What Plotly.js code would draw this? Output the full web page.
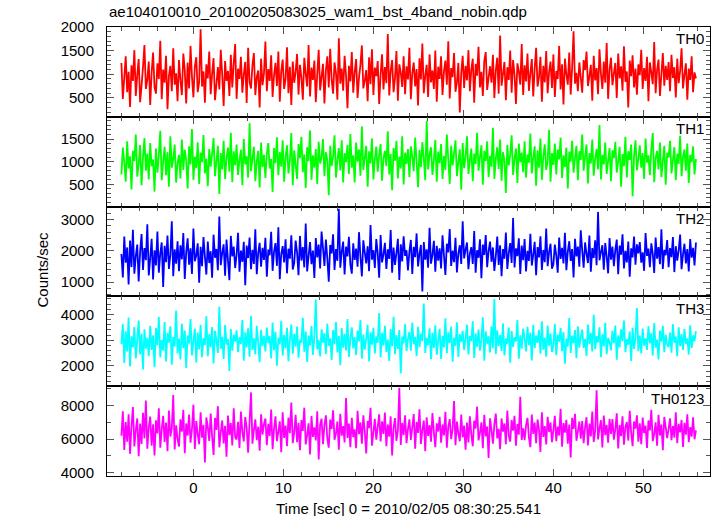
<!DOCTYPE html>
<html>
<head>
<meta charset="utf-8">
<script src="https://cdn.plot.ly/plotly-3.0.1.min.js"></script>
<style>html,body{margin:0;padding:0;background:#fff;}#chart{width:717px;height:516px;}</style>
</head>
<body>
<div id="chart"></div>
<script>
// Time bins (sec, relative to 2010/02/05 08:30:25.541)
var tStart = -8.0;
var binSize = 0.16;

var bandNames = ["TH0", "TH1", "TH2", "TH3", "TH0123"];

var th0 = [
1240,480,930,1380,620,1050,310,1190,860,1510,540,980,1320,410,760,1150,1620,690,880,1270,
350,1040,1460,720,590,1230,900,1710,470,1100,820,1390,260,960,1180,640,1550,780,1020,430,
1300,870,560,1440,1090,380,1250,700,1600,950,510,1170,1360,620,840,1950,740,1060,400,1210,
910,1480,580,1010,1340,450,790,1150,680,1520,990,330,1280,860,1070,540,1410,720,1230,1640,
480,1120,900,1370,610,1000,1260,390,1560,830,700,1190,1450,560,940,1080,300,1330,770,1020,
1690,640,1110,860,1400,520,980,1240,750,1480,420,1060,1310,690,890,1570,600,1160,350,1270,
820,1050,1430,570,1200,930,460,1350,1010,740,1620,530,1140,880,1290,410,1000,1520,660,950,
1220,380,1080,1380,720,1540,890,590,1250,1030,460,1760,800,1120,650,1390,970,280,1180,850,
1470,610,1040,1320,500,930,1200,1610,700,860,1090,430,1360,790,1530,560,1140,960,1280,370,
990,1420,680,1150,810,1850,550,1070,1300,620,920,1490,440,1210,1040,730,1380,580,1170,890,
1560,470,1020,1250,740,1110,340,1340,890,1650,600,970,1200,520,1420,830,1080,690,1500,420,
1160,900,1380,560,1060,1290,780,1700,490,1130,940,1450,630,830,1240,190,1030,1390,710,1180,
870,1510,640,1100,1330,400,1220,970,1580,720,1050,540,1280,1470,670,930,1170,820,1410,500,
1080,1350,590,1820,760,1010,1260,450,1150,880,1500,610,1300,990,370,1230,1060,780,1640,560,
1190,850,1440,650,1020,1320,530,1110,1560,740,940,1370,420,1180,830,1490,600,1050,1270,710,
1420,520,1070,900,1600,680,1210,360,1330,1000,780,1460,570,1140,1910,800,1030,640,1250,940,
610,1300,1090,1480,750,960,1200,440,1390,870,1130,580,1530,1010,690,1270,820,1660,480,1100,
1350,770,1020,1240,500,1440,910,1170,650,1590,840,1060,300,1290,960,1400,720,1120,570,1210,
980,1520,690,1130,860,1370,430,1250,1040,790,1680,600,1090,1310,540,1000,1450,760,1180,880,
1260,640,1410,920,1150,510,1330,810,1070,1550,700,990,1230,460,1120,880,1380,620,1040,910
];

var th1 = [
720,1310,980,560,1450,850,1120,390,1240,1010,1600,670,930,1370,480,1090,1520,800,1180,610,
1410,900,1050,340,1290,760,1140,1680,590,1000,1330,700,1210,450,1560,870,1060,1380,540,970,
1150,630,1490,820,1260,1040,410,1340,940,1720,600,1110,860,1430,510,1200,990,1590,740,1070,
460,1280,890,1170,1520,680,1010,1350,290,1190,830,1460,620,1080,1310,780,1640,550,1230,920,
1380,710,1030,1260,480,1500,940,1120,650,1850,790,1060,1330,570,1000,1240,430,1420,880,1150,
640,1180,1410,850,1060,330,1300,970,1540,700,1210,890,1470,560,1100,1360,740,1020,1630,480,
1250,930,620,1390,1080,1550,770,1160,420,1320,1010,1690,600,1140,870,1280,510,1440,960,1090,
1500,680,1210,1030,260,1350,900,1120,1580,650,1040,1300,810,1470,540,1190,990,1370,730,1610,
870,1140,540,1420,1000,1270,690,1780,820,1090,1350,450,1230,960,1510,610,1060,1330,780,1150,
1390,580,1080,1240,900,1670,720,1170,370,1300,1020,1460,630,1110,850,1560,500,1200,950,1280,
660,1340,1120,790,1530,1010,440,1260,880,1430,1070,590,1900,830,1150,1320,710,1040,1480,560,
1220,970,1390,620,1130,820,1600,1050,510,1350,920,1190,1470,680,1000,1270,380,1410,860,1100,
1560,730,1040,1290,570,1180,950,1640,800,1100,1360,490,1240,1010,1450,660,1130,890,1750,620,
1070,1320,840,1490,580,1210,1030,310,1370,920,1150,1580,710,1060,1290,530,1400,990,1200,770,
1450,650,1160,980,1620,740,1090,1340,470,1250,870,1510,600,1120,1380,820,1010,1700,560,1190,
930,1400,720,1270,1050,1530,640,1140,880,1310,410,1220,1000,1460,760,1080,1350,590,1230,1040,
1600,800,1110,1380,520,1190,960,1490,690,1070,1280,830,1810,610,1150,940,1420,730,1020,1300,
570,1250,1080,1440,760,1010,1330,450,1170,900,1550,650,1230,1040,1380,240,1120,1470,810,1060,
1360,870,1190,620,1510,980,1140,700,1290,1630,550,1080,1240,830,1420,660,1000,1350,490,1200,
1090,1460,740,1030,1320,590,1180,950,1570,680,1110,1270,800,1400,530,1150,990,1340,720,1060
];

var th2 = [
1900,1150,2460,1620,2110,920,2330,1480,2680,1270,1830,2200,1020,1980,2540,1390,2090,1700,2850,1210,
1760,2390,1080,2020,1530,2620,1300,1920,2270,840,2160,1640,2490,1420,1870,2950,1190,2050,1590,2310,
1350,2180,1730,2570,1100,1960,2400,1560,2080,1260,2720,1670,1850,2240,980,2130,1510,2440,1810,1240,
2300,1610,1990,1140,2520,1780,2060,1380,3100,1540,1930,2210,1200,2360,1700,1060,2480,1820,2140,1450,
1880,2580,1330,2010,1650,2290,900,2170,1770,2430,1410,2030,1580,2690,1250,1940,2260,1490,2100,1710,
2420,1170,2040,1860,2610,1360,1980,2250,1520,2760,1090,1900,2150,1630,2370,1280,2070,1750,2500,1400,
1610,2330,1950,1220,2480,1690,2120,1470,2880,1340,1840,2280,1570,2010,1130,2410,1790,2200,1440,2620,
2090,1520,2360,1760,1010,2190,1920,2530,1390,2060,1680,3350,1460,1970,2300,1240,2140,1820,2450,1560,
1270,2240,1710,2070,1490,2600,1810,1180,2340,1960,1600,2150,1350,2830,1720,2020,1450,2380,1930,1140,
2510,1630,1890,2260,1420,2050,1740,2670,1300,2110,1550,1940,2390,1070,2210,1660,2470,1840,2020,1370,
1980,2350,1260,2130,1800,2560,1500,1900,2190,700,2280,1720,2050,1460,2740,1590,1870,2320,1330,2160,
1690,2080,1440,2500,1860,1230,2230,1950,2700,1520,2010,1640,2420,1310,1920,2180,1580,2950,1760,2040,
2270,1410,1910,2120,1580,2640,1300,2020,1780,2370,1120,2200,1870,2510,1480,1990,2300,1650,2110,1360,
1820,2460,1550,2180,1190,2060,1750,2590,1420,1930,2250,1610,3050,1470,2080,1830,2400,1260,2170,1700,
2380,1340,2000,1680,2550,1530,1880,2290,1220,2120,1790,2470,1390,2030,1640,2720,1510,1960,2230,1430,
1570,2200,1850,1300,2430,1740,2100,1600,2580,1380,1970,2310,1680,2060,1150,2390,1820,2140,1490,2660,
2010,1460,2270,1900,1610,2490,1330,2090,1770,2340,1540,3250,1700,1950,2180,1400,2250,1830,1280,2410,
1720,2140,1510,2030,2360,1250,2170,1880,2530,1440,2000,1630,2300,1170,2080,1790,2460,1560,2210,1920,
2280,1620,1950,1360,2570,1840,2070,1480,2240,1910,1290,2430,1750,2120,1570,2690,1420,2030,1860,2350,
1480,2090,1800,2440,1320,2150,1690,2010,2520,1410,1890,2230,1600,2060,1340,2380,1780,2100,1530,2270
];

var th3 = [
2850,3620,2110,3340,2560,3880,1980,3150,2720,3510,2290,3030,3760,2440,3250,1860,3420,2670,3090,2380,
3560,2620,3190,1950,3470,2800,3900,2330,3010,2590,3700,2170,3280,2900,3540,2050,3120,2760,4150,2480,
3060,2250,3640,2690,3370,1920,3180,2870,3820,2410,2960,3450,2130,3290,2640,3600,2340,3080,2810,3930,
2380,3230,2720,3510,2090,3360,2980,2500,4300,2660,3130,2270,3590,2830,3040,1800,3430,2590,3210,2940,
3380,2530,3110,2850,3780,2200,3300,2720,3460,2360,3940,2620,3070,2450,3560,2900,2140,3400,2780,3170,
2560,3490,2880,3150,2290,3680,2610,3320,2010,3090,2850,3750,2400,3210,2690,3480,2180,3030,3610,2470,
3240,2750,3530,2320,3020,2900,3870,2550,3330,2150,3180,2790,3550,2430,3110,4580,2640,3000,2370,3420,
2900,3270,2460,3640,2780,3070,2230,3390,2840,3700,2520,3160,2030,3470,2710,3250,2600,3820,2350,3040,
3500,2680,3120,2420,3370,2950,3780,2280,3220,2630,3060,3590,2170,3310,2820,3480,2480,3150,2900,4050,
2330,3280,2790,3560,2540,3020,2190,3430,2760,3910,2450,3200,2660,3390,1700,3140,2870,3620,2580,3050,
3320,2590,3680,2840,3130,2380,3520,2730,3240,2960,4420,2500,3090,2800,3460,2260,3290,2700,3580,2430,
2980,3440,2270,3170,2720,3850,2490,3300,2880,3530,2160,3100,2780,3690,2350,3230,2930,3360,2620,3080,
3600,2440,3160,2970,3730,2310,3260,2740,3410,2590,3020,3890,2200,3340,2860,3150,2520,3540,2690,4600,
2460,3380,2770,3200,2580,3650,2410,3060,2860,3490,2120,3350,2740,3120,2950,3780,2280,3190,2670,3450,
3070,2560,3520,2810,3290,2210,3600,2690,3180,2900,3400,2470,3730,2630,3100,2360,3570,2780,3260,2540,
2810,3630,2420,3210,2940,3470,2570,3310,2080,3060,2750,3860,2500,3170,2880,3390,2300,3540,2710,3130,
3410,2700,3050,2390,3610,2850,3280,2560,3990,2650,3150,2910,3500,2340,3230,2760,3670,2450,3080,2920,
2600,3360,2880,3570,2240,3190,2720,3420,2960,3760,2530,3040,2820,3330,2190,3480,2660,3110,4250,2570,
3180,2480,3450,2790,3070,2620,3540,2870,3270,2400,3660,2710,3020,2250,3370,2940,3560,2530,3210,2830,
2730,3290,2510,3620,2900,3140,2380,3500,2770,3230,2620,3440,2860,3060,2440,3580,2700,3190,2960,3350
];

var th0123 = [
6200,7650,5350,7020,5840,7480,5120,6760,7910,5560,6510,7230,4980,6920,5710,7560,6040,8300,5430,6690,
7340,5600,6880,5020,7120,6340,7830,5490,6570,7390,5830,6990,5270,7700,6150,6640,8620,5380,6820,6010,
5550,7180,6450,7740,5160,6930,6210,7460,5780,6600,8050,5410,7070,6300,5690,7590,6080,6850,4600,7290,
6720,5890,7520,6160,5050,7260,6550,7960,5510,6390,7110,5740,6790,4950,7400,6240,6960,5620,7830,6110,
5980,7030,5470,7640,6420,5860,7310,6680,5190,7000,8780,5720,6530,7180,5940,6740,5300,7470,6270,6890,
7220,5630,6910,6180,7760,5400,6620,7350,5880,6450,7060,5210,7590,6070,6810,5580,7280,6350,8180,5760,
6380,7440,5820,6970,5330,7130,6490,7870,5680,6250,6940,5090,7380,6130,6700,5920,7650,4780,6860,7210,
5700,6830,7410,6020,5490,7160,6600,7720,5960,6330,7050,5360,7500,6200,6770,5800,8450,6060,6920,5520,
7270,6120,6580,5450,7690,6290,6990,5730,7420,6450,5140,7080,6650,7860,5610,6410,7200,5970,6720,7480,
5860,7060,6310,7580,5580,6870,6140,7350,5030,6680,7250,5900,6500,9050,5650,6960,6240,7410,5760,6580,
7170,5950,6690,7490,5430,7020,6370,7780,5710,6540,7100,5280,7300,6180,6830,5840,7550,6410,5520,6940,
6450,7330,5780,6870,6220,7620,5490,6730,7190,5990,6590,8260,5640,7040,6330,5870,7460,6100,6800,5360,
6990,5800,7360,6280,5570,7090,6630,7930,5920,6370,7000,5460,7440,6160,6750,4880,7240,6530,5730,6880,
7520,6040,6610,5390,7230,6440,6930,5690,7700,6190,5850,7140,6500,7380,5600,6900,6260,8520,5950,6640,
5930,6820,7260,6090,5520,7460,6310,6980,5760,7170,6560,5230,7600,6130,6770,5680,7330,6420,6990,5810,
6550,7390,5870,6740,6210,7810,5540,6950,6380,7150,5720,6860,4900,7270,6610,7510,5900,6460,7040,6020,
7080,5750,6700,7300,5620,6920,6160,7640,5830,6470,8900,5980,6640,7120,5500,7400,6230,6850,5790,7210,
6310,7190,5960,6580,7540,5440,6840,6170,7360,5660,6730,7010,5910,7680,6390,5580,7050,6620,7420,5850,
6940,5690,7280,6350,6800,5470,7110,6520,7740,5880,6290,7000,5610,7440,6210,6870,5340,7320,6690,6050,
6600,7230,5940,6780,6080,7590,5760,6910,6400,7140,5530,6970,6260,7480,5820,6710,6150,7300,5990,6520
];

var series = [th0, th1, th2, th3, th0123];
var colors = ["#ff0000", "#00ff00", "#0000ff", "#00ffff", "#ff00ff"];
var yRanges = [[100, 2000], [10, 1990], [540, 3420], [1210, 4700], [3800, 9150]];
var yDticks = [500, 500, 1000, 1000, 2000];
var yMinor = [100, 100, 200, 200, 1000];

var FONT = "Liberation Sans, Arial, Helvetica, sans-serif";

function axId(n) { return n === 1 ? "" : String(n); }

function buildChart() {
  var traces = [];
  var layout = {
    width: 717, height: 516,
    margin: {l: 107, r: 7, t: 27, b: 40},
    paper_bgcolor: "#ffffff", plot_bgcolor: "#ffffff",
    showlegend: false,
    font: {family: FONT, size: 15, color: "#000"},
    annotations: []
  };
  for (var i = 0; i < 5; i++) {
    var n = i + 1;
    var xa = "x" + axId(n), ya = "y" + axId(n);
    traces.push({
      type: "scatter", mode: "lines",
      x0: tStart, dx: binSize, y: series[i],
      xaxis: xa, yaxis: ya,
      line: {color: colors[i], width: 1.8, simplify: false},
      hoverinfo: "skip"
    });
    var yTop = 1 - i * 0.2, yBot = 1 - (i + 1) * 0.2;
    var xCfg = {
      domain: [0, 1], anchor: ya, range: [-9.6, 57.4],
      showline: true, linecolor: "#000", linewidth: 1, mirror: "allticks",
      ticks: "inside", ticklen: 7, tickcolor: "#555", tickwidth: 1,
      dtick: 10, tick0: 0,
      minor: {dtick: 2, ticklen: 4, tickcolor: "#555", ticks: "inside"},
      showgrid: false, zeroline: false,
      showticklabels: i === 4,
      tickfont: {family: FONT, size: 15, color: "#000"},
      ticklabelstandoff: -2
    };
    if (i !== 4) xCfg.matches = "x5";
    layout["xaxis" + axId(n)] = xCfg;
    layout["yaxis" + axId(n)] = {
      domain: [yBot, yTop], anchor: xa, range: yRanges[i],
      showline: true, linecolor: "#000", linewidth: 1, mirror: "allticks",
      ticks: "inside", ticklen: 7, tickcolor: "#555", tickwidth: 1,
      dtick: yDticks[i], tick0: 0,
      minor: {dtick: yMinor[i], ticklen: 4, tickcolor: "#555", ticks: "inside"},
      showgrid: false, zeroline: false,
      tickfont: {family: FONT, size: 15, color: "#000"},
      ticklabelstandoff: 9
    };
    layout.annotations.push({
      xref: "paper", yref: "paper", x: 0.993, y: yTop - 0.003,
      xanchor: "right", yanchor: "top", showarrow: false,
      text: bandNames[i], font: {family: FONT, size: 15, color: "#000"}
    });
  }
  layout.annotations.push({
    xref: "paper", yref: "paper", x: 0, y: 1, yshift: 5,
    xanchor: "left", yanchor: "bottom", showarrow: false,
    text: "ae104010010_20100205083025_wam1_bst_4band_nobin.qdp",
    font: {family: FONT, size: 15, color: "#000"}
  });
  layout.annotations.push({
    xref: "paper", yref: "paper", x: 0.5, y: 0, yshift: -22,
    xanchor: "center", yanchor: "top", showarrow: false,
    text: "Time [sec] 0 = 2010/02/05 08:30:25.541",
    font: {family: FONT, size: 15, color: "#000"}
  });
  layout.annotations.push({
    xref: "paper", yref: "paper", x: 0, xshift: -65, y: 0.46,
    xanchor: "center", yanchor: "middle", showarrow: false, textangle: -90,
    text: "Counts/sec",
    font: {family: FONT, size: 15, color: "#000"}
  });
  Plotly.newPlot("chart", traces, layout, {displayModeBar: false, staticPlot: true});
}
buildChart();
</script>
</body>
</html>
